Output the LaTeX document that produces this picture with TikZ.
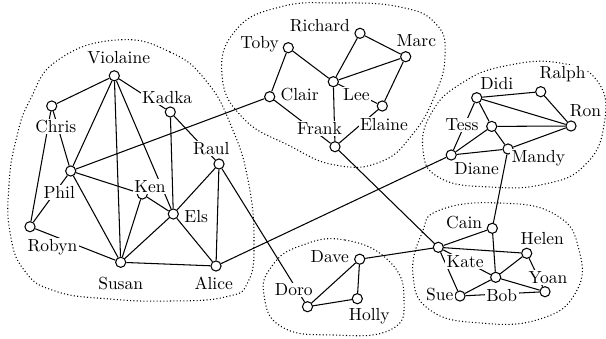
\documentclass[tikz,border=0pt]{standalone}
\begin{document}
\begin{tikzpicture}[x=0.5714pt,y=-0.5714pt,
  pers/.style={circle,draw,fill=white,minimum size=5.8pt,inner sep=0pt,line width=0.6pt},
  lab/.style={fill=white,inner sep=0.8pt},
  link/.style={line width=0.6pt},
  blob/.style={line width=0.6pt,dash pattern=on 0.6pt off 1.3pt}]
\useasboundingbox (0,0) rectangle (606,338);
% groups
\draw[blob] plot[smooth cycle,tension=0.8] coordinates {(117,40) (170,52) (207,82) (232,128) (248,180) (254,240) (248,282) (225,297) (170,301) (110,299) (55,291) (24,270) (10,232) (9,185) (16,140) (30,100) (58,60)};
\draw[blob] plot[smooth cycle,tension=0.8] coordinates {(222,75) (236,30) (280,7) (337,3) (400,7) (436,24) (445,55) (435,95) (412,135) (380,162) (335,165) (290,146) (243,118)};
\draw[blob] plot[smooth cycle,tension=0.8] coordinates {(423,150) (440,178) (490,187) (545,184) (585,165) (604,125) (598,82) (560,63) (505,66) (462,83) (432,112)};
\draw[blob] plot[smooth cycle,tension=0.8] coordinates {(440,210) (500,203) (556,215) (579,250) (576,292) (540,319) (480,323) (430,310) (413,275) (422,233)};
\draw[blob] plot[smooth cycle,tension=0.8] coordinates {(300,246) (345,240) (390,262) (404,300) (390,330) (333,335) (282,327) (264,295) (272,266)};
% people
\node[pers] (Violaine) at (114.3,75.8) {};
\node[pers] (Chris) at (51.7,106) {};
\node[pers] (Kadka) at (170.3,112) {};
\node[pers] (Phil) at (70.7,171) {};
\node[pers] (Raul) at (219,164) {};
\node[pers] (Ken) at (142.3,194) {};
\node[pers] (Els) at (173.3,214) {};
\node[pers] (Robyn) at (30,226.7) {};
\node[pers] (Susan) at (120.7,262.3) {};
\node[pers] (Alice) at (216,266) {};
\node[pers] (Clair) at (269.7,96.7) {};
\node[pers] (Toby) at (288.3,47.7) {};
\node[pers] (Richard) at (360,33.3) {};
\node[pers] (Marc) at (405.7,56.7) {};
\node[pers] (Lee) at (333.3,81.7) {};
\node[pers] (Elaine) at (382.3,106) {};
\node[pers] (Frank) at (335,146.7) {};
\node[pers] (Didi) at (476.7,97.7) {};
\node[pers] (Ralph) at (540.7,91.7) {};
\node[pers] (Ron) at (571,126) {};
\node[pers] (Tess) at (491.7,126.4) {};
\node[pers] (Mandy) at (508,149) {};
\node[pers] (Diane) at (451.2,155) {};
\node[pers] (Cain) at (492.3,228.3) {};
\node[pers] (Kate) at (438.3,247.3) {};
\node[pers] (Helen) at (526.7,253.3) {};
\node[pers] (Yoan) at (545,291.7) {};
\node[pers] (Bob) at (495.7,277.3) {};
\node[pers] (Sue) at (460,296) {};
\node[pers] (Dave) at (359.7,259.2) {};
\node[pers] (Holly) at (357.3,298.7) {};
\node[pers] (Doro) at (307.5,306.7) {};
% links
\draw[link] (Violaine) -- (Chris);
\draw[link] (Violaine) -- (Kadka);
\draw[link] (Violaine) -- (Phil);
\draw[link] (Violaine) -- (Susan);
\draw[link] (Violaine) -- (Els);
\draw[link] (Chris) -- (Phil);
\draw[link] (Chris) -- (Robyn);
\draw[link] (Phil) -- (Robyn);
\draw[link] (Phil) -- (Ken);
\draw[link] (Phil) -- (Susan);
\draw[link] (Phil) -- (Clair);
\draw[link] (Kadka) -- (Els);
\draw[link] (Kadka) -- (Raul);
\draw[link] (Ken) -- (Els);
\draw[link] (Ken) -- (Susan);
\draw[link] (Els) -- (Susan);
\draw[link] (Els) -- (Raul);
\draw[link] (Els) -- (Alice);
\draw[link] (Raul) -- (Alice);
\draw[link] (Raul) -- (Doro);
\draw[link] (Robyn) -- (Susan);
\draw[link] (Susan) -- (Alice);
\draw[link] (Alice) -- (Diane);
\draw[link] (Toby) -- (Clair);
\draw[link] (Toby) -- (Lee);
\draw[link] (Richard) -- (Lee);
\draw[link] (Richard) -- (Marc);
\draw[link] (Marc) -- (Lee);
\draw[link] (Marc) -- (Elaine);
\draw[link] (Lee) -- (Frank);
\draw[link] (Lee) -- (Elaine);
\draw[link] (Clair) -- (Frank);
\draw[link] (Frank) -- (Elaine);
\draw[link] (Frank) -- (Kate);
\draw[link] (Didi) -- (Ralph);
\draw[link] (Didi) -- (Ron);
\draw[link] (Didi) -- (Tess);
\draw[link] (Didi) -- (Diane);
\draw[link] (Ralph) -- (Ron);
\draw[link] (Tess) -- (Ron);
\draw[link] (Tess) -- (Diane);
\draw[link] (Tess) -- (Mandy);
\draw[link] (Mandy) -- (Ron);
\draw[link] (Mandy) -- (Diane);
\draw[link] (Mandy) -- (Cain);
\draw[link] (Kate) -- (Dave);
\draw[link] (Kate) -- (Cain);
\draw[link] (Kate) -- (Helen);
\draw[link] (Kate) -- (Sue);
\draw[link] (Kate) -- (Bob);
\draw[link] (Cain) -- (Bob);
\draw[link] (Helen) -- (Bob);
\draw[link] (Helen) -- (Yoan);
\draw[link] (Bob) -- (Sue);
\draw[link] (Bob) -- (Yoan);
\draw[link] (Sue) -- (Yoan);
\draw[link] (Dave) -- (Doro);
\draw[link] (Dave) -- (Holly);
\draw[link] (Doro) -- (Holly);
% labels
\node[lab] (lViolaine) at (118.7,57.5) {Violaine};
\node[lab] (lChris) at (55.8,126.7) {Chris};
\node[lab] (lKadka) at (167.2,97.8) {Kadka};
\node[lab] (lRaul) at (211.3,148.8) {Raul};
\node[lab] (lPhil) at (59.2,192.7) {Phil};
\node[lab] (lKen) at (150,186.2) {Ken};
\node[lab] (lEls) at (196.3,216.7) {Els};
\node[lab] (lRobyn) at (52.5,247.5) {Robyn};
\node[lab] (lSusan) at (120.7,283.3) {Susan};
\node[lab] (lAlice) at (213.7,283.3) {Alice};
\node[lab] (lRichard) at (319.8,26) {Richard};
\node[lab] (lToby) at (259.7,44.2) {Toby};
\node[lab] (lMarc) at (416.3,40.8) {Marc};
\node[lab] (lClair) at (299.7,94.2) {Clair};
\node[lab] (lLee) at (356.3,94.2) {Lee};
\node[lab] (lElaine) at (384,124.5) {Elaine};
\node[lab] (lFrank) at (319.5,128.8) {Frank};
\node[lab] (lRalph) at (562.7,74.5) {Ralph};
\node[lab] (lDidi) at (496.7,84) {Didi};
\node[lab] (lRon) at (585.5,110.8) {Ron};
\node[lab] (lTess) at (462,125) {Tess};
\node[lab] (lMandy) at (538.3,158.3) {Mandy};
\node[lab] (lDiane) at (476.7,168.3) {Diane};
\node[lab] (lCain) at (464.2,223) {Cain};
\node[lab] (lHelen) at (542.3,238.3) {Helen};
\node[lab] (lKate) at (465.2,261.2) {Kate};
\node[lab] (lYoan) at (548,277.8) {Yoan};
\node[lab] (lSue) at (439.7,294.5) {Sue};
\node[lab] (lBob) at (501.7,295.8) {Bob};
\node[lab] (lDave) at (329.8,257) {Dave};
\node[lab] (lDoro) at (293.8,290) {Doro};
\node[lab] (lHolly) at (369.3,315.8) {Holly};
\end{tikzpicture}
\end{document}
